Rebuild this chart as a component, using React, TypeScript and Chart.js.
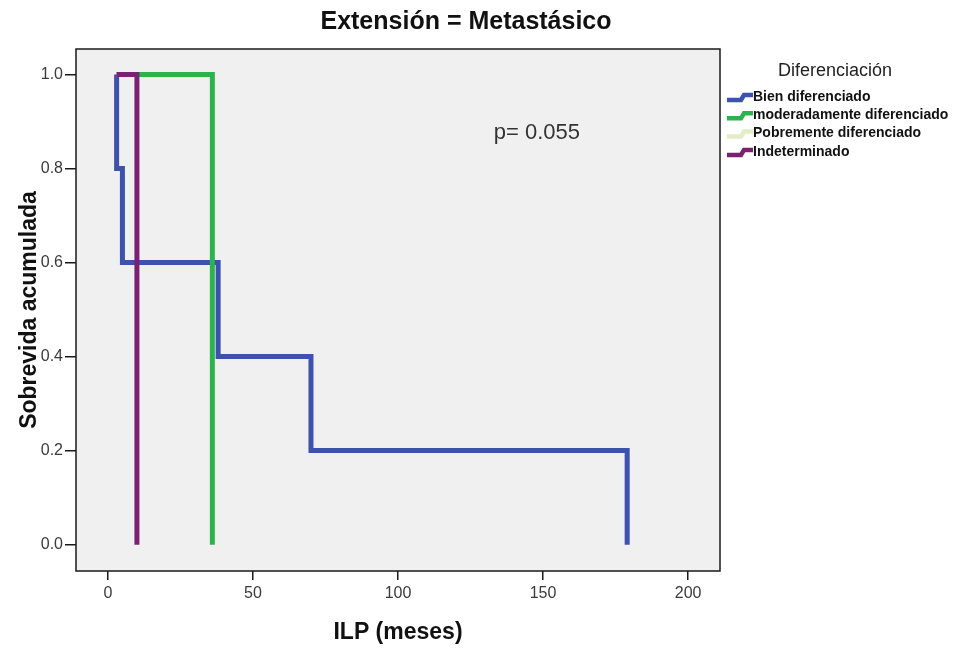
import React, { useEffect, useRef } from "react";
import { Chart, registerables } from "chart.js";

Chart.register(...registerables);

// ---- data ----
const xTickValues = [0, 50, 100, 150, 200];
const yTickValues = [0, 0.2, 0.4, 0.6, 0.8, 1.0];
const seriesNames = [
  "Bien diferenciado",
  "moderadamente diferenciado",
  "Pobremente diferenciado",
  "Indeterminado",
];
const seriesColors = ["#3c52ad", "#2cb44c", "#e4ecc8", "#7a2271"];
const startTime = 3;
const bienTimes = [3, 5, 38, 70, 179];
const bienSurv = [0.8, 0.6, 0.4, 0.2, 0.0];
const moderadoTimes = [36];
const moderadoSurv = [0.0];
const pobreTimes: number[] = [];
const pobreSurv: number[] = [];
const indetTimes = [10];
const indetSurv = [0.0];
const pValueText = "p= 0.055";
const pValuePos = { x: 133, y: 0.875 };

const FONT = "'Liberation Sans', Arial, sans-serif";

function kmPoints(start: number, times: number[], surv: number[]) {
  if (times.length === 0) return [];
  const pts: { x: number; y: number }[] = [{ x: start, y: 1 }];
  let prev = 1;
  times.forEach((t, i) => {
    pts.push({ x: t, y: prev });
    pts.push({ x: t, y: surv[i] });
    prev = surv[i];
  });
  return pts;
}

const decor = {
  id: "decor",
  beforeDraw(chart: any) {
    const { ctx, chartArea: a } = chart;
    ctx.save();
    ctx.fillStyle = "#f0f0f0";
    ctx.fillRect(a.left, a.top, a.right - a.left, a.bottom - a.top);
    ctx.restore();
  },
  afterDraw(chart: any) {
    const { ctx, chartArea: a, scales } = chart;
    ctx.save();
    // frame
    ctx.strokeStyle = "#1a1a1a";
    ctx.lineWidth = 1.5;
    ctx.strokeRect(a.left, a.top, a.right - a.left, a.bottom - a.top);

    // title
    ctx.fillStyle = "#111";
    ctx.textAlign = "center";
    ctx.textBaseline = "middle";
    ctx.font = `bold 25px ${FONT}`;
    ctx.fillText("Extensión = Metastásico", 466, 22);

    // x title
    ctx.font = `bold 23px ${FONT}`;
    ctx.fillText("ILP (meses)", 398, 633);

    // y title
    ctx.save();
    ctx.translate(30, 310);
    ctx.rotate(-Math.PI / 2);
    ctx.fillText("Sobrevida acumulada", 0, 0);
    ctx.restore();

    // p value
    ctx.font = `22px ${FONT}`;
    ctx.fillStyle = "#333";
    ctx.textAlign = "left";
    ctx.fillText(
      pValueText,
      scales.x.getPixelForValue(pValuePos.x),
      scales.y.getPixelForValue(pValuePos.y)
    );

    // legend
    ctx.fillStyle = "#222";
    ctx.textAlign = "center";
    ctx.font = `18px ${FONT}`;
    ctx.fillText("Diferenciación", 835, 71);
    ctx.textAlign = "left";
    ctx.font = `bold 14px ${FONT}`;
    seriesNames.forEach((name, i) => {
      const y = 97 + i * 18.3;
      ctx.strokeStyle = seriesColors[i];
      ctx.lineWidth = 4.5;
      ctx.beginPath();
      ctx.moveTo(727, y + 3);
      ctx.lineTo(741, y + 3);
      ctx.lineTo(744, y - 2);
      ctx.lineTo(753, y - 2);
      ctx.stroke();
      ctx.fillStyle = "#111";
      ctx.fillText(name, 753, y);
    });
    ctx.restore();
  },
};

export default function App() {
  const ref = useRef<HTMLCanvasElement | null>(null);
  useEffect(() => {
    if (!ref.current) return;
    const lists = [
      kmPoints(startTime, bienTimes, bienSurv),
      kmPoints(startTime, moderadoTimes, moderadoSurv),
      kmPoints(startTime, pobreTimes, pobreSurv),
      kmPoints(startTime, indetTimes, indetSurv),
    ];
    const orders = [4, 3, 2, 1];
    const chart = new Chart(ref.current, {
      type: "line",
      data: {
        datasets: seriesNames.map((name, i) => ({
          label: name,
          data: lists[i],
          borderColor: seriesColors[i],
          backgroundColor: seriesColors[i],
          borderWidth: 5,
          pointRadius: 0,
          fill: false,
          tension: 0,
          order: orders[i],
          borderJoinStyle: "miter" as const,
        })),
      },
      options: {
        animation: false,
        responsive: true,
        maintainAspectRatio: false,
        layout: { padding: { top: 49, right: 233, left: 0, bottom: 0 } },
        plugins: {
          legend: { display: false },
          title: { display: false },
          tooltip: { enabled: false },
        },
        scales: {
          x: {
            type: "linear",
            min: -11,
            max: 211,
            afterBuildTicks: (s: any) => {
              s.ticks = xTickValues.map((v) => ({ value: v }));
            },
            afterFit: (s: any) => {
              s.height = 79;
            },
            grid: {
              drawOnChartArea: false,
              drawTicks: true,
              tickLength: 9,
              color: "#1a1a1a",
              lineWidth: 1.5,
            },
            border: { display: false },
            ticks: {
              color: "#3a3a3a",
              font: { family: FONT, size: 16 },
              padding: 4,
              maxRotation: 0,
            },
          },
          y: {
            type: "linear",
            min: -0.056,
            max: 1.054,
            afterBuildTicks: (s: any) => {
              s.ticks = yTickValues.map((v) => ({ value: v }));
            },
            afterFit: (s: any) => {
              s.width = 76;
            },
            grid: {
              drawOnChartArea: false,
              drawTicks: true,
              tickLength: 11,
              color: "#1a1a1a",
              lineWidth: 1.5,
            },
            border: { display: false },
            ticks: {
              color: "#3a3a3a",
              font: { family: FONT, size: 16 },
              padding: 2,
              callback: (v: any) => Number(v).toFixed(1),
            },
          },
        },
      },
      plugins: [decor],
    });
    return () => chart.destroy();
  }, []);
  return (
    <div
      style={{
        position: "fixed",
        left: 0,
        top: 0,
        width: 953,
        height: 650,
        background: "#fff",
      }}
    >
      <canvas ref={ref} />
    </div>
  );
}
